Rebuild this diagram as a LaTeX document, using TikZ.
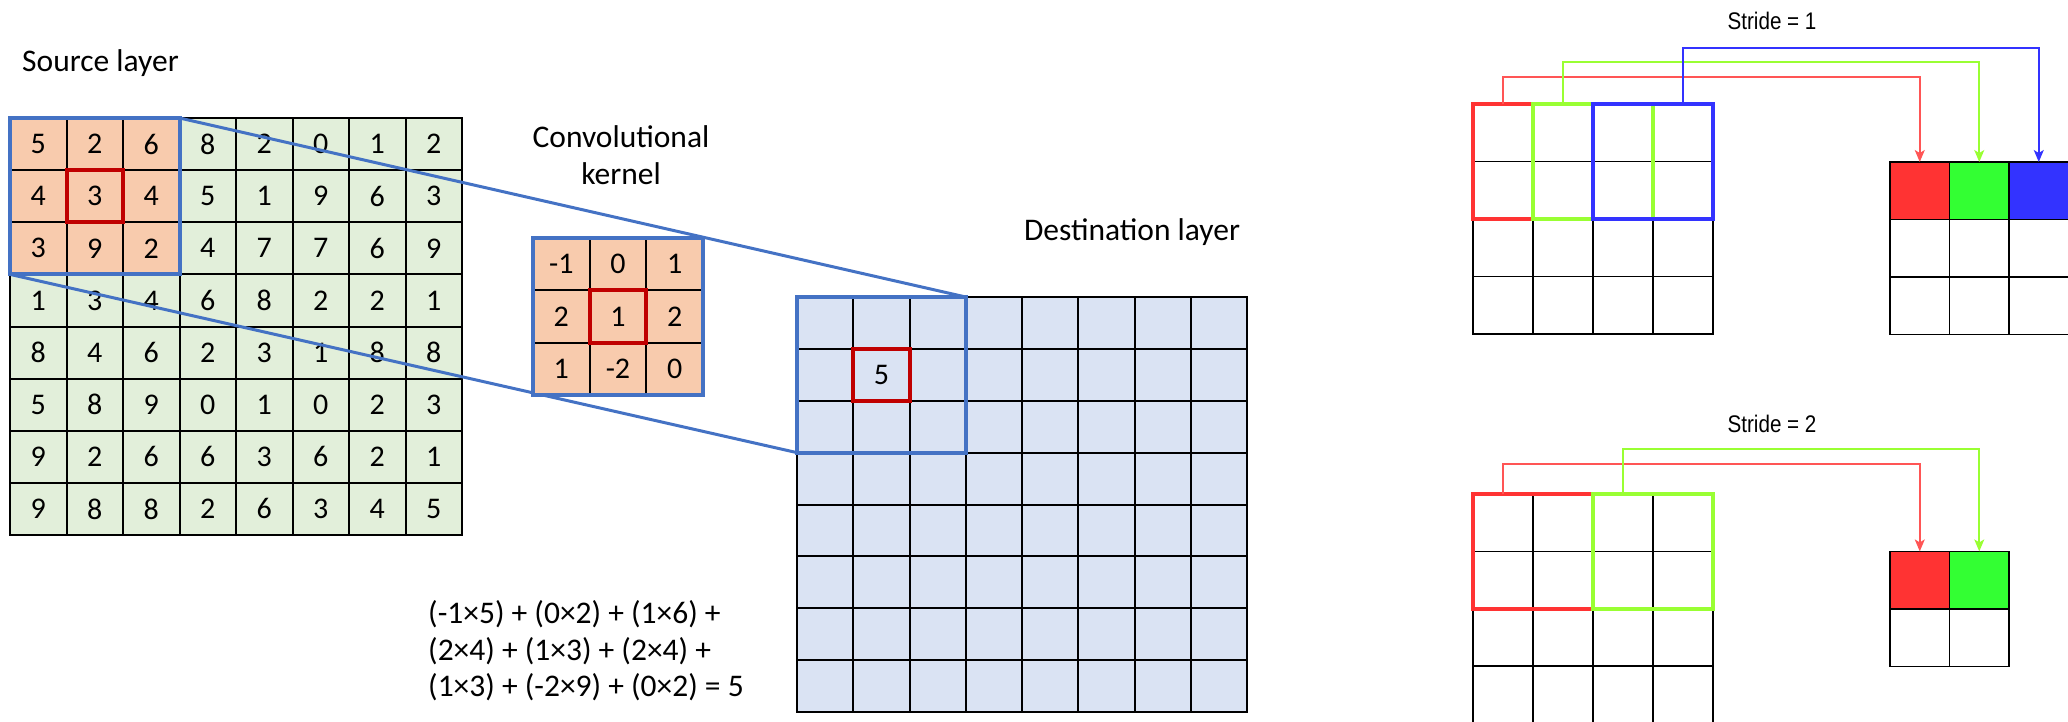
\documentclass[tikz,border=0pt]{standalone}
\usepackage{fontspec}
\setmainfont{Carlito}
\newfontfamily\arialfont{Liberation Sans}
\usetikzlibrary{arrows.meta}

\definecolor{srcfill}{HTML}{E2EFDA}
\definecolor{kerfill}{HTML}{F8CBAD}
\definecolor{dstfill}{HTML}{DAE3F3}
\definecolor{frameblue}{HTML}{4472C4}
\definecolor{framered}{HTML}{C00000}
\definecolor{sred}{HTML}{FF3333}
\definecolor{sgreen}{HTML}{33FF33}
\definecolor{sblue}{HTML}{3333FF}
\definecolor{slime}{HTML}{99FF33}
\definecolor{sredline}{HTML}{FF5555}

\newcommand{\narrowtext}[1]{\scalebox{0.86}[1]{#1}}

\tikzset{
  lbl/.style={font=\fontsize{31.5}{36.5}\selectfont, inner sep=0pt},
  num/.style={font=\fontsize{30}{36}\selectfont},
  basecell/.style={draw=black, line width=2pt, inner sep=0pt, outer sep=0pt, anchor=north west, num},
  srccell/.style={basecell, minimum width=56.5pt, minimum height=52.125pt},
  kercell/.style={basecell, fill=kerfill, minimum width=56.67pt, minimum height=52.33pt},
  dstcell/.style={basecell, fill=dstfill, minimum width=56.25pt, minimum height=51.875pt},
  bluewin/.style={draw=frameblue, line width=4pt},
  redwin/.style={draw=framered, line width=4pt},
  conn/.style={draw=frameblue, line width=3pt},
  gcell/.style={draw=black, line width=1.8pt, inner sep=0pt, outer sep=0pt, anchor=north west, minimum width=60pt, minimum height=57.4pt},
  ocell/.style={draw=black, line width=1.8pt, inner sep=0pt, outer sep=0pt, anchor=north west, minimum width=59.5pt, minimum height=57.5pt},
  stridewin/.style={line width=4pt},
  stridearrow/.style={line width=1.6pt, -{Stealth[length=12pt,width=10pt,inset=3pt]}},
  stridelbl/.style={font=\arialfont\fontsize{24}{27}\selectfont, inner sep=0pt}
}

\begin{document}
\begin{tikzpicture}[x=1pt,y=-1pt]
\useasboundingbox (0,0) rectangle (2068,721);

% ---------- source layer ----------
\node[lbl, anchor=west] (srclabel) at (22,63) {Source layer};
\foreach \row [count=\i] in {{5,2,6,8,2,0,1,2},{4,3,4,5,1,9,6,3},{3,9,2,4,7,7,6,9},{1,3,4,6,8,2,2,1},{8,4,6,2,3,1,8,8},{5,8,9,0,1,0,2,3},{9,2,6,6,3,6,2,1},{9,8,8,2,6,3,4,5}} {
  \foreach \v [count=\j] in \row {
    \def\cf{srcfill}
    \ifnum\i<4 \ifnum\j<4 \def\cf{kerfill}\fi\fi
    \node[srccell, fill=\cf] (s-\i-\j) at ({10+(\j-1)*56.5},{118+(\i-1)*52.125}) {\v};
  }
}

% ---------- destination layer ----------
\node[lbl] (dstlabel) at (1132,232) {Destination layer};
\foreach \i in {1,...,8} {
  \foreach \j in {1,...,8} {
    \def\cv{}
    \ifnum\i=2 \ifnum\j=2 \def\cv{5}\fi\fi
    \node[dstcell] (d-\i-\j) at ({797+(\j-1)*56.25},{297+(\i-1)*51.875}) {\cv};
  }
}

% projection lines from the source window to the destination window
\draw[conn] (s-1-3.north east) -- (d-1-3.north east);
\draw[conn] (s-3-1.south west) -- (d-3-1.south west);

% ---------- kernel ----------
\node[lbl, align=center] (kerlabel) at (621,155) {Convolutional\\kernel};
\foreach \row [count=\i] in {{-1,0,1},{2,1,2},{1,-2,0}} {
  \foreach \v [count=\j] in \row {
    \node[kercell] (k-\i-\j) at ({533+(\j-1)*56.67},{238+(\i-1)*52.33}) {\v};
  }
}

% windows
\draw[bluewin] (s-1-1.north west) rectangle (s-3-3.south east);
\draw[bluewin] (k-1-1.north west) rectangle (k-3-3.south east);
\draw[bluewin] (d-1-1.north west) rectangle (d-3-3.south east);
\draw[redwin] (s-2-2.north west) rectangle (s-2-2.south east);
\draw[redwin] (k-2-2.north west) rectangle (k-2-2.south east);
\draw[redwin] (d-2-2.north west) rectangle (d-2-2.south east);

% worked sum
\node[lbl, anchor=west, align=left] (sum) at (428,651)
  {(-1×5) + (0×2) + (1×6) +\\(2×4) + (1×3) + (2×4) +\\(1×3) + (-2×9) + (0×2) = 5};

% ---------- stride = 1 ----------
\node[stridelbl] (s1label) at (1772,21) {\narrowtext{Stride = 1}};
\foreach \i in {1,...,4} {
  \foreach \j in {1,...,4} {
    \node[gcell] (a-\i-\j) at ({1473+(\j-1)*60},{104+(\i-1)*57.5}) {};
  }
}
\foreach \i in {1,2,3} {
  \foreach \j in {1,2,3} {
    \def\cf{white}
    \ifnum\i=1 \ifcase\j\or\def\cf{sred}\or\def\cf{sgreen}\or\def\cf{sblue}\fi\fi
    \node[ocell, fill=\cf] (p-\i-\j) at ({1890+(\j-1)*59.5},{162+(\i-1)*57.5}) {};
  }
}
\draw[stridewin, sred] (a-1-1.north west) rectangle (a-2-2.south east);
\draw[stridewin, slime] (a-1-2.north west) rectangle (a-2-3.south east);
\draw[stridewin, sblue] (a-1-3.north west) rectangle (a-2-4.south east);
\draw[stridearrow, sredline] (a-1-1.north) -- ++(0,-27) -| (p-1-1.north);
\draw[stridearrow, slime] (a-1-2.north) -- ++(0,-42) -| (p-1-2.north);
\draw[stridearrow, sblue] (a-1-4.north) -- ++(0,-56) -| (p-1-3.north);

% ---------- stride = 2 ----------
\node[stridelbl] (s2label) at (1772,424) {\narrowtext{Stride = 2}};
\foreach \i in {1,...,4} {
  \foreach \j in {1,...,4} {
    \node[gcell] (b-\i-\j) at ({1473+(\j-1)*60},{494+(\i-1)*57.4}) {};
  }
}
\foreach \i in {1,2} {
  \foreach \j in {1,2} {
    \def\cf{white}
    \ifnum\i=1 \ifcase\j\or\def\cf{sred}\or\def\cf{sgreen}\fi\fi
    \node[ocell, fill=\cf] (q-\i-\j) at ({1890+(\j-1)*59.5},{551.4+(\i-1)*57.5}) {};
  }
}
\draw[stridewin, sred] (b-1-1.north west) rectangle (b-2-2.south east);
\draw[stridewin, slime] (b-1-3.north west) rectangle (b-2-4.south east);
\draw[stridearrow, sredline] (b-1-1.north) -- ++(0,-30) -| (q-1-1.north);
\draw[stridearrow, slime] (b-1-3.north) -- ++(0,-45) -| (q-1-2.north);
\end{tikzpicture}
\end{document}
